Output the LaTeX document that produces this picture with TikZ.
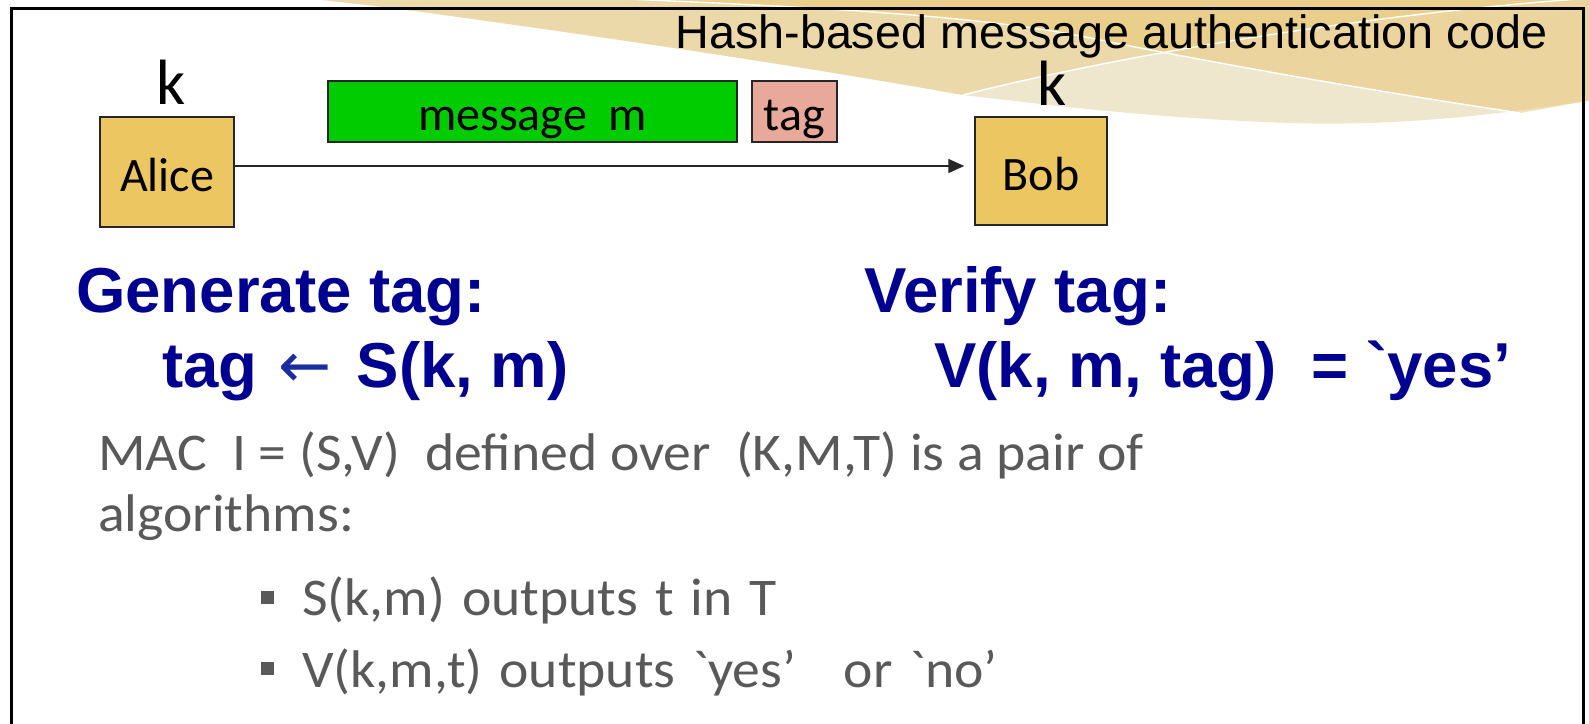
\documentclass[tikz,border=0pt]{standalone}
\usepackage{fontspec}
\usetikzlibrary{arrows.meta}
\newfontfamily\arialf{Liberation Sans}
\newfontfamily\dejaf{DejaVu Sans}
\newfontfamily\carl{Carlito}
\newfontfamily\carlw[FakeStretch=1.05]{Carlito}
% a plain grave accent glyph, untouched by the TeX quote mapping
\newcommand\grv{\XeTeXglyph\XeTeXcharglyph"60\relax}
% list items are set with wider word spacing
\newcommand\itemfont{\carlw\fontsize{53}{60}\selectfont\spaceskip 17pt\relax}
\definecolor{boxgold}{HTML}{ECC660}
\definecolor{msggreen}{HTML}{00CC00}
\definecolor{tagpink}{HTML}{E8A99A}
\definecolor{headblue}{HTML}{000090}
\definecolor{arrowblue}{HTML}{1A2E9E}
\definecolor{bodygray}{HTML}{595959}
\definecolor{swlight}{HTML}{EFE6CE}
\definecolor{swgold}{HTML}{E9C470}
\tikzset{
  party/.style={draw=black!85, line width=1.5pt, fill=boxgold, inner sep=0pt,
    text height=38pt, text depth=0pt, font=\carl\fontsize{48}{50}\selectfont},
  packet/.style={draw=black!85, line width=1.5pt, inner sep=0pt, minimum height=61pt,
    text height=38pt, text depth=0pt, font=\carl\fontsize{48}{50}\selectfont},
  keylabel/.style={anchor=base, inner sep=0pt, font=\carl\fontsize{64}{70}\selectfont},
  headtxt/.style={anchor=base west, inner sep=0pt, text=headblue,
    font=\arialf\bfseries\fontsize{63.5}{70}\selectfont},
  bodytxt/.style={anchor=base west, inner sep=0pt, text=bodygray,
    font=\carlw\fontsize{53}{60}\selectfont},
  itemtxt/.style={anchor=base west, inner sep=0pt, text=bodygray, font=\itemfont},
  bulletbox/.style={fill=bodygray, minimum size=13pt, inner sep=0pt},
  swline/.style={white, line width=1.4pt},
}
\begin{document}
\begin{tikzpicture}[x=1pt,y=-1pt]
\useasboundingbox (0,0) rectangle (1589,723);
\fill[white] (0,0) rectangle (1589,723);

% decorative waves in the top right corner
\fill[swlight] (305,-2) -- (1592,-2) -- (1592,100)
  .. controls (1480,118) and (1380,126) .. (1290,123)
  .. controls (1150,118) and (1050,105) .. (963,95)
  .. controls (850,75) and (700,50) .. (393,8) -- cycle;
\fill[swgold, opacity=0.38] (305,-2) -- (1592,-2)
  .. controls (1350,15) and (1100,60) .. (963,95)
  .. controls (850,75) and (700,50) .. (393,8) -- cycle;
\fill[swgold, opacity=0.5] (600,-2)
  .. controls (850,8) and (1000,18) .. (1100,40)
  .. controls (1250,70) and (1400,95) .. (1520,113)
  -- (1592,100) -- (1592,-2) -- cycle;
\draw[swline] (963,95) .. controls (1100,60) and (1350,15) .. (1592,-2);
\draw[swline] (600,-2) .. controls (850,8) and (1000,18) .. (1100,40)
  .. controls (1250,70) and (1400,95) .. (1520,113);

% slide frame
\draw[line width=3pt] (11,725) -- (11,8) -- (1583,8) -- (1583,725);

\node[anchor=base east, inner sep=0pt, font=\arialf\fontsize{46.7}{50}\selectfont]
  (title) at (1548,48) {Hash-based message authentication code};

% the two parties and the transmitted packet
\node[party, minimum width=134pt, minimum height=110pt] (alice) at (167,172) {Alice};
\node[party, minimum width=132pt, minimum height=108pt] (bob) at (1041,171) {Bob};
\node[keylabel] (ka) at (171,104) {k};
\node[keylabel] (kb) at (1052,105) {k};
\node[packet, fill=msggreen, minimum width=409pt] (msg) at (532.5,111.5) {message\ \ m};
\node[packet, fill=tagpink, minimum width=85pt] (tag) at (794.5,111.5) {tag};

\coordinate (lane) at (0,166);
\draw[line width=1.6pt, black!85, -{Triangle[length=16pt,width=14pt]}, shorten >=10pt]
  (alice.east |- lane) -- (bob.west |- lane);

% signing and verification
\node[headtxt] (gen) at (76,312) {Generate tag:};
\node[headtxt] (genf) at (162,387) {tag\hspace{21pt}{\dejaf\mdseries\color{arrowblue}←}\hspace{25pt}S(k, m)};
\node[headtxt] (ver) at (864,312) {Verify tag:};
\node[headtxt] (verf) at (934,387) {V(k, m, tag)\ \ = \grv yes’};

% definition
\node[bodytxt] (def1) at (98,470) {MAC\ \ I = (S,V)\ \ defined over\ \ (K,M,T) is a pair of};
\node[bodytxt] (def2) at (98,531) {algorithms:};
\node[bulletbox] (b1) at (267,597) {};
\node[itemtxt] (s1) at (302,615) {S(k,m) outputs t in T};
\node[bulletbox] (b2) at (267,668) {};
\node[itemtxt] (s2) at (302,687) {V(k,m,t) outputs \grv yes’\hspace{48pt}or \grv no’};
\end{tikzpicture}
\end{document}
